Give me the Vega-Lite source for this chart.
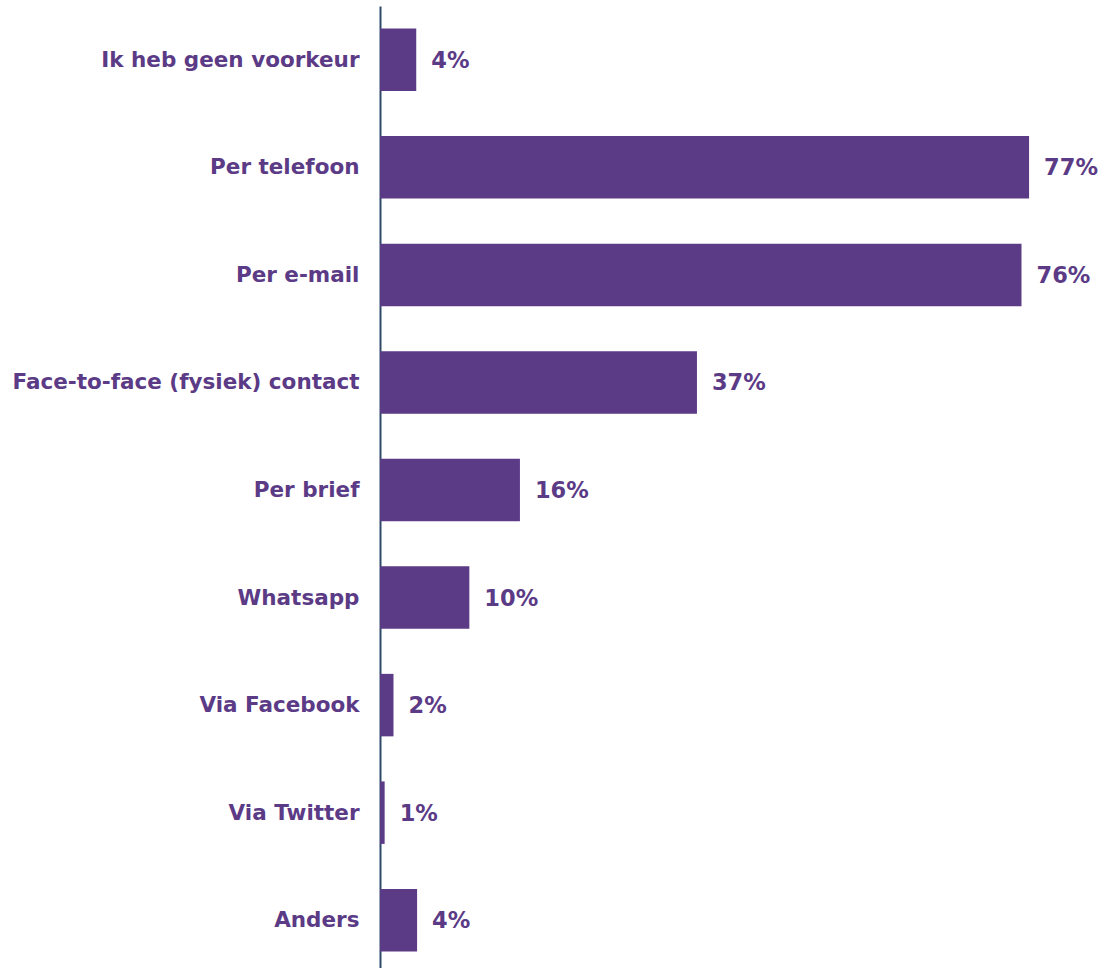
{
  "$schema": "https://vega.github.io/schema/vega-lite/v6.json",
  "autosize": {"type": "none"},
  "padding": {"left": 380, "top": 6, "right": 0, "bottom": 0},
  "width": 723,
  "height": 968,
  "background": "white",
  "config": {"view": {"stroke": null}},
  "data": {
    "values": [
      {"categorie": "Ik heb geen voorkeur", "pct": 4.3, "label": "4%"},
      {"categorie": "Per telefoon", "pct": 77.0, "label": "77%"},
      {"categorie": "Per e-mail", "pct": 76.1, "label": "76%"},
      {"categorie": "Face-to-face (fysiek) contact", "pct": 37.6, "label": "37%"},
      {"categorie": "Per brief", "pct": 16.6, "label": "16%"},
      {"categorie": "Whatsapp", "pct": 10.6, "label": "10%"},
      {"categorie": "Via Facebook", "pct": 1.6, "label": "2%"},
      {"categorie": "Via Twitter", "pct": 0.55, "label": "1%"},
      {"categorie": "Anders", "pct": 4.4, "label": "4%"}
    ]
  },
  "encoding": {
    "y": {
      "field": "categorie",
      "type": "nominal",
      "sort": null,
      "scale": {"paddingInner": 0.419, "paddingOuter": 0.2095},
      "axis": {
        "title": null,
        "ticks": false,
        "labelPadding": 21,
        "labelFont": "DejaVu Sans",
        "labelFontSize": 21.5,
        "labelFontWeight": "bold",
        "labelColor": "#5B3A86",
        "labelLimit": 400,
        "labelOffset": 1,
        "domainColor": "#2E4A6B",
        "domainWidth": 2
      }
    },
    "x": {
      "field": "pct",
      "type": "quantitative",
      "scale": {"domain": [0, 85.77], "nice": false},
      "axis": null
    }
  },
  "layer": [
    {"mark": {"type": "bar", "color": "#5B3A86"}},
    {
      "mark": {
        "type": "text",
        "align": "left",
        "baseline": "middle",
        "dx": 15,
        "dy": 1,
        "font": "DejaVu Sans",
        "fontSize": 22.5,
        "fontWeight": "bold",
        "color": "#5B3A86"
      },
      "encoding": {"text": {"field": "label"}}
    }
  ]
}
